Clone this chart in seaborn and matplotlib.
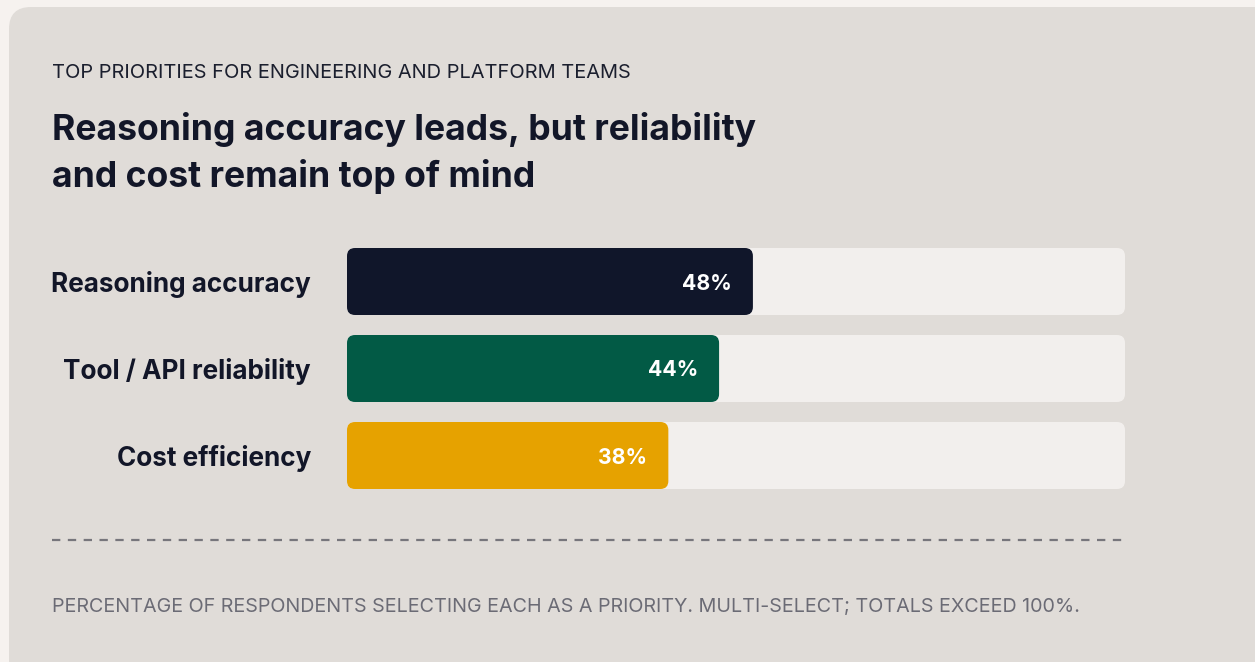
import matplotlib
matplotlib.use("Agg")
import matplotlib.pyplot as plt
import seaborn as sns
import pandas as pd
from matplotlib.patches import FancyBboxPatch
from matplotlib.lines import Line2D

# ---- data ----
categories = ["Reasoning accuracy", "Tool / API reliability", "Cost efficiency"]
values = [48, 44, 38]
value_labels = ["48%", "44%", "38%"]
bar_colors = ["#10162a", "#025a45", "#e6a200"]
track_max = 92

header = "TOP PRIORITIES FOR ENGINEERING AND PLATFORM TEAMS"
title_lines = ["Reasoning accuracy leads, but reliability", "and cost remain top of mind"]
footnote = "PERCENTAGE OF RESPONDENTS SELECTING EACH AS A PRIORITY. MULTI-SELECT; TOTALS EXCEED 100%."

sns.set_theme(style="white")
plt.rcParams["font.family"] = ["Inter", "DejaVu Sans"]
plt.rcParams["lines.scale_dashes"] = False

W, H = 1255, 662
DPI = 100
fig = plt.figure(figsize=(W / DPI, H / DPI), dpi=DPI, facecolor="#f6f2ef")

# background / card layer in pixel coordinates
bg = fig.add_axes([0, 0, 1, 1], zorder=0)
bg.set_xlim(0, W)
bg.set_ylim(H, 0)
bg.axis("off")
card = FancyBboxPatch((9, 7), W + 20 - 9, H + 20 - 7,
                      boxstyle="round,pad=0,rounding_size=22",
                      facecolor="#e0dcd8", edgecolor="none")
bg.add_patch(card)

text_dark = "#121628"
bg.text(52, 78, header, fontsize=14.4, color="#1b1f2e", va="baseline", ha="left")
bg.text(52, 140, title_lines[0], fontsize=25.6, fontweight="bold", color=text_dark,
        va="baseline", ha="left")
bg.text(52, 187, title_lines[1], fontsize=25.6, fontweight="bold", color=text_dark,
        va="baseline", ha="left")
bg.add_line(Line2D([52, 1125], [540, 540], color="#77767c", lw=1.6,
                   dashes=(6.0, 5.4), dash_capstyle="butt"))
bg.text(52, 612, footnote, fontsize=14.2, color="#6b6b75", va="baseline", ha="left")

# bar axes
left_px, right_px = 347, 1125
top_px, bot_px = 238, 499
ax = fig.add_axes([left_px / W, 1 - bot_px / H, (right_px - left_px) / W, (bot_px - top_px) / H],
                  zorder=1)
ax.patch.set_alpha(0)

df = pd.DataFrame({"category": categories, "value": values,
                   "track": [track_max] * len(categories)})
bar_w = 67 / 87

sns.barplot(data=df, y="category", x="track", color="#f2efed", width=bar_w,
            ax=ax, order=categories, saturation=1)
n_track = len(ax.patches)
sns.barplot(data=df, y="category", x="value", hue="category", palette=bar_colors,
            width=bar_w, ax=ax, order=categories, hue_order=categories,
            saturation=1, legend=False)

ax.set_xlim(0, track_max)
ax.set_ylim(len(categories) - 0.5, -0.5)

# convert rectangles to rounded boxes
px_per_x = (right_px - left_px) / track_max
px_per_y = (bot_px - top_px) / len(categories)
radius_px = 8
r_x = radius_px / px_per_x
aspect = (radius_px / px_per_y) / r_x
rects = list(ax.patches)
for i, p in enumerate(rects):
    x, y = p.get_x(), p.get_y()
    w, h = p.get_width(), p.get_height()
    fc = p.get_facecolor()
    p.remove()
    ax.add_patch(FancyBboxPatch((x, y), w, h,
                                boxstyle=f"round,pad=0,rounding_size={r_x}",
                                mutation_aspect=aspect, facecolor=fc,
                                edgecolor="none", zorder=2 if i >= n_track else 1))

# value labels inside bars
for i, (v, lab) in enumerate(zip(values, value_labels)):
    ax.text(v - 21 / px_per_x, i, lab, ha="right", va="center_baseline",
            fontsize=15.3, fontweight="bold", color="white", zorder=3)

ax.set_xlabel("")
ax.set_ylabel("")
ax.set_xticks([])
ax.tick_params(axis="y", length=0, pad=26)
for lab in ax.get_yticklabels():
    lab.set_fontsize(18.8)
    lab.set_fontweight("bold")
    lab.set_color(text_dark)
sns.despine(ax=ax, left=True, bottom=True)

fig.savefig("out.png", dpi=DPI, facecolor=fig.get_facecolor())
